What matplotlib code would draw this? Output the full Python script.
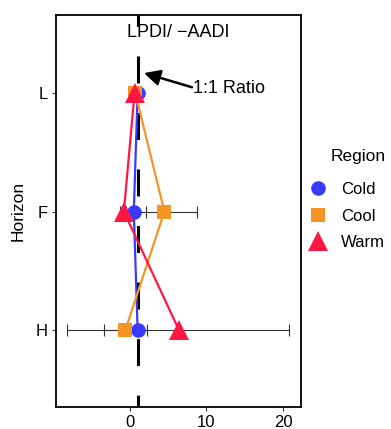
import numpy as np
import matplotlib.pyplot as plt
import matplotlib
from matplotlib.lines import Line2D

matplotlib.rcParams['font.family'] = ['Liberation Sans', 'DejaVu Sans']
matplotlib.rcParams['lines.scale_dashes'] = False

# data
horizons = ['L', 'F', 'H']
regions = ['Cold', 'Cool', 'Warm']
cold_mean = [1.0, 0.5, 1.0]
cold_lo = [0.7, -1.3, 0.7]
cold_hi = [1.3, 2.1, 1.3]
cool_mean = [0.7, 4.5, -0.6]
cool_lo = [0.4, 0.2, -3.4]
cool_hi = [1.0, 8.7, 2.2]
warm_mean = [0.6, -0.8, 6.4]
warm_lo = [0.3, -1.1, -8.2]
warm_hi = [0.9, -0.5, 20.8]

colors = {'Cold': '#3a3aff', 'Cool': '#f39423', 'Warm': '#ff1744'}
markers = {'Cold': 'o', 'Cool': 's', 'Warm': '^'}
msizes = {'Cold': 10.5, 'Cool': 10.5, 'Warm': 14}

series = {
    'Cold': (cold_mean, cold_lo, cold_hi),
    'Cool': (cool_mean, cool_lo, cool_hi),
    'Warm': (warm_mean, warm_lo, warm_hi),
}

fig = plt.figure(figsize=(3.91, 4.29), dpi=100)
ax = fig.add_axes([0.1432, 0.0513, 0.6266, 0.9137])

ypos = {'L': 3, 'F': 2, 'H': 1}
y = np.array([ypos[h] for h in horizons])

# 1:1 line
ax.plot([1, 1], [3.66, 0.35], color='black', lw=2.2,
        linestyle=(11.2, (19.4, 21.3)), dash_capstyle='butt', zorder=1)

for r in regions:
    m, lo, hi = series[r]
    m = np.array(m)
    xerr = np.array([m - np.array(lo), np.array(hi) - m])
    ax.errorbar(m, y, xerr=xerr, fmt='none', ecolor='#333333',
                elinewidth=0.8, capsize=4, capthick=0.8, zorder=2)
for r in regions:
    m, lo, hi = series[r]
    ax.plot(m, y, '-', color=colors[r], lw=1.6, zorder=3)
    ax.plot(m, y, markers[r], color=colors[r], ms=msizes[r],
            markeredgewidth=0, zorder=4)

ax.set_xlim(-9.67, 22.35)
ax.set_ylim(0.35, 3.66)
ax.set_xticks([0, 10, 20])
ax.set_yticks([3, 2, 1])
ax.set_yticklabels(horizons)
ax.tick_params(labelsize=12, length=3, width=0.8, color='#333333', pad=3)
for s in ax.spines.values():
    s.set_linewidth(1.3)
ax.set_ylabel('Horizon', fontsize=12.5, labelpad=7)

ax.text(0.5, 0.955, 'LPDI/ \u2212AADI', transform=ax.transAxes,
        ha='center', va='center', fontsize=13)
ax.annotate('', xy=(1.83, 3.17), xytext=(8.1, 3.05),
            arrowprops=dict(arrowstyle='-|>', color='black', lw=1.8,
                            mutation_scale=24, shrinkA=0, shrinkB=0))
ax.text(8.2, 3.04, '1:1 Ratio', fontsize=13, va='center', ha='left')

handles = [Line2D([], [], ls='none', marker=markers[r], color=colors[r],
                  ms=msizes[r], markeredgewidth=0) for r in regions]
leg = fig.legend(handles, regions, title='Region', loc='center left',
                 bbox_to_anchor=(0.775, 0.535), frameon=False, fontsize=12,
                 title_fontsize=12.5, handlelength=1.0, handletextpad=0.9,
                 labelspacing=0.7, borderaxespad=0, alignment='right')
leg._legend_box.sep = 13

plt.savefig('out.png', dpi=100)
